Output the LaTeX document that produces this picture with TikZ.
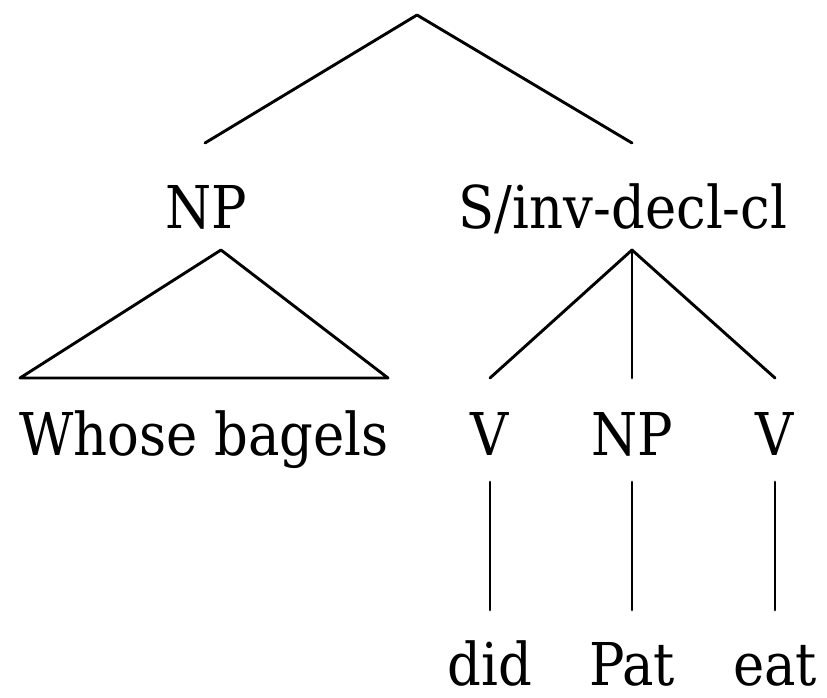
\documentclass[tikz,border=0pt]{standalone}
\usepackage{fontspec}
\setmainfont{DejaVu Serif}[FakeStretch=0.895]
\begin{document}
\begin{tikzpicture}[x=1pt,y=-1pt,
  lbl/.style={anchor=base,inner sep=0pt,font=\fontsize{59}{59}\selectfont},
  edge/.style={line width=2.9pt,line cap=round,line join=round}]
\useasboundingbox (0,0) rectangle (827,698);
% labels
\node[lbl] (np) at (206,228) {NP};
\node[lbl] (s) at (623,228) {S/inv-decl-cl};
\node[lbl] (wb) at (204,455) {Whose bagels};
\node[lbl] (v1) at (490,455) {V};
\node[lbl] (np2) at (632,455) {NP};
\node[lbl] (v2) at (775,455) {V};
\node[lbl] (did) at (490,685) {did};
\node[lbl] (pat) at (632,685) {Pat};
\node[lbl] (eat) at (775,685) {eat};
% end points
\coordinate (root) at (417,15);
\coordinate (npT) at (205,143);
\coordinate (sT) at (632,143);
\coordinate (npB) at (221,250);
\coordinate (wbL) at (20,378);
\coordinate (wbR) at (388,378);
\coordinate (sB) at (632,250);
\coordinate (v1T) at (490,378);
\coordinate (np2T) at (632,378);
\coordinate (v2T) at (775,378);
\coordinate (v1B) at (490,482);
\coordinate (np2B) at (632,482);
\coordinate (v2B) at (775,482);
\coordinate (didT) at (490,610);
\coordinate (patT) at (632,610);
\coordinate (eatT) at (775,610);
% connectors
\draw[edge] (npT) -- (root) -- (sT);
\draw[edge] (npB) -- (wbL) -- (wbR) -- cycle;
\draw[edge] (sB) -- (v1T);
\draw[edge] (sB) -- (np2T);
\draw[edge] (sB) -- (v2T);
\draw[edge] (v1B) -- (didT);
\draw[edge] (np2B) -- (patT);
\draw[edge] (v2B) -- (eatT);
\end{tikzpicture}
\end{document}
